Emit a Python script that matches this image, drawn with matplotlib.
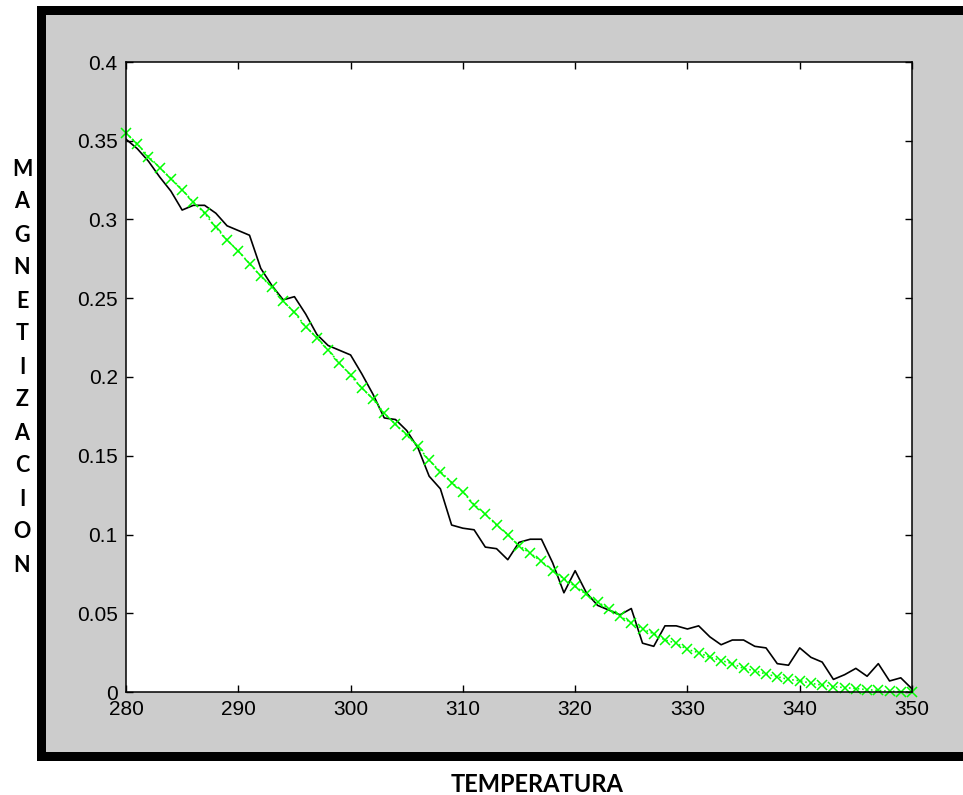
import matplotlib.pyplot as plt
from matplotlib.patches import Rectangle
import numpy as np

# Temperatura (eje x)
temperatura = np.arange(280, 351)

# Magnetizacion medida (linea negra)
magnetizacion = [
    0.351, 0.345, 0.337, 0.327, 0.318, 0.306, 0.309, 0.309, 0.304, 0.296,
    0.293, 0.290, 0.269, 0.258, 0.249, 0.251, 0.240, 0.227, 0.220, 0.217,
    0.214, 0.202, 0.189, 0.174, 0.173, 0.166, 0.155, 0.137, 0.129, 0.106,
    0.104, 0.103, 0.092, 0.091, 0.084, 0.095, 0.097, 0.097, 0.082, 0.063,
    0.077, 0.063, 0.055, 0.052, 0.049, 0.053, 0.031, 0.029, 0.042, 0.042,
    0.040, 0.042, 0.035, 0.030, 0.033, 0.033, 0.029, 0.028, 0.018, 0.017,
    0.028, 0.022, 0.019, 0.008, 0.011, 0.015, 0.010, 0.018, 0.007, 0.009,
    0.002,
]

# Ajuste (linea verde con x)
ajuste = [
    0.355, 0.348, 0.340, 0.333, 0.326, 0.319, 0.311, 0.304, 0.295, 0.287,
    0.280, 0.272, 0.264, 0.257, 0.248, 0.241, 0.232, 0.225, 0.217, 0.209,
    0.201, 0.193, 0.186, 0.177, 0.170, 0.163, 0.156, 0.147, 0.140, 0.133,
    0.127, 0.119, 0.113, 0.106, 0.100, 0.093, 0.088, 0.083, 0.077, 0.072,
    0.067, 0.062, 0.057, 0.053, 0.048, 0.044, 0.040, 0.037, 0.033, 0.031,
    0.027, 0.025, 0.022, 0.020, 0.018, 0.015, 0.0135, 0.0114, 0.0097, 0.008,
    0.0072, 0.0055, 0.0044, 0.0034, 0.0028, 0.0022, 0.0015, 0.001, 0.0005, 0.0002,
    0.0,
]

W, H = 963, 795
fig = plt.figure(figsize=(W / 100, H / 100), dpi=100)

# Marco negro y fondo gris (detras de los ejes)
fig.patches.append(Rectangle((37 / W, (H - 761) / H), 1.0, (761 - 6) / H,
                             transform=fig.transFigure, facecolor="black",
                             edgecolor="none", zorder=-2))
fig.patches.append(Rectangle((46 / W, (H - 752) / H), 1.0, (752 - 15) / H,
                             transform=fig.transFigure, facecolor="#cccccc",
                             edgecolor="none", zorder=-1))

ax = fig.add_axes([126 / W, (H - 692) / H, 786 / W, 630 / H])
ax.plot(temperatura, magnetizacion, color="black", linewidth=1.2)
ax.plot(temperatura, ajuste, color="#00ff00", linestyle=":", linewidth=1.2,
        marker="x", markersize=7, markeredgewidth=1.1, clip_on=False)

ax.set_xlim(280, 350)
ax.set_ylim(0, 0.4)
ax.set_xticks(np.arange(280, 351, 10))
ax.set_yticks(np.arange(0, 0.41, 0.05))
ax.set_yticklabels(["0", "0.05", "0.1", "0.15", "0.2", "0.25", "0.3", "0.35", "0.4"])
ax.tick_params(direction="in", length=5, width=1, top=True, right=True,
               labelsize=15, pad=6)
for lbl in ax.get_xticklabels() + ax.get_yticklabels():
    lbl.set_family("Liberation Sans")
for s in ax.spines.values():
    s.set_linewidth(1.1)

# Etiqueta vertical letra por letra
for i, ch in enumerate("MAGNETIZACION"):
    fig.text(22 / W, 1 - (169 + 33 * i) / H, ch, ha="center", va="center",
             fontsize=15.5, fontweight="bold", family="Lato")

fig.text(537 / W, 1 - 785 / H, "TEMPERATURA", ha="center", va="center",
         fontsize=17, fontweight="bold", family="Lato")

fig.savefig("out.png", dpi=100)
